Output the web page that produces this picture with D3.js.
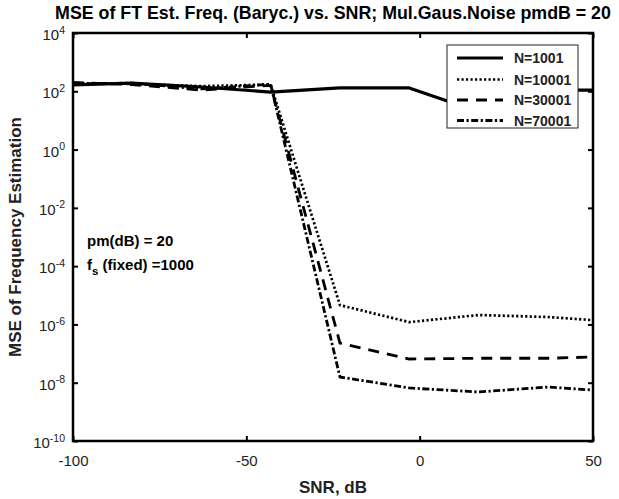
<!DOCTYPE html>
<html><head><meta charset="utf-8">
<script src="https://cdn.jsdelivr.net/npm/d3@7"></script>
<style>body{margin:0;background:#fff}svg{display:block}text{font-family:"Liberation Sans",Arial,sans-serif}</style>
</head><body><svg id="c" width="619" height="499"></svg>
<script>
const snr = [-100, -83, -63, -43, -23, -3, 17, 37, 50];
const n1001  = [164, 190, 140, 94, 130, 130, 20, 110, 110];
const n10001 = [190, 180, 150, 170, 4.6e-6, 1.2e-6, 2.1e-6, 1.8e-6, 1.4e-6];
const n30001 = [200, 170, 110, 160, 2.3e-7, 6.5e-8, 6.9e-8, 6.9e-8, 7.6e-8];
const n70001 = [180, 190, 120, 175, 1.57e-8, 6.6e-9, 4.8e-9, 7.1e-9, 5.6e-9];
const seriesNames = ["N=1001", "N=10001", "N=30001", "N=70001"];
const xTicks = [-100, -50, 0, 50];
const yTickExps = [-10, -8, -6, -4, -2, 0, 2, 4];
const title = "MSE of FT Est. Freq. (Baryc.) vs. SNR; Mul.Gaus.Noise pmdB = 20";
const xLabel = "SNR, dB";
const yLabel = "MSE of Frequency Estimation";

const L = 73, R = 593, T = 33, B = 441;
const svg = d3.select("#c");
const x = d3.scaleLinear().domain([-100, 50]).range([L, R]);
const y = d3.scaleLog().domain([1e-10, 1e4]).range([B, T]);

svg.append("clipPath").attr("id", "clip").append("rect")
  .attr("x", L).attr("y", T).attr("width", R - L).attr("height", B - T);

const styles = [
  {dash: null, w: 3.2},
  {dash: "2.2,2.3", w: 2.7},
  {dash: "11,8", w: 2.8},
  {dash: "7,2.5,2.2,2.5", w: 2.8}
];
const all = [n1001, n10001, n30001, n70001];
const line = d3.line().x((d, i) => x(snr[i])).y(d => y(d));
const g = svg.append("g").attr("clip-path", "url(#clip)");
all.forEach((s, k) => {
  g.append("path").datum(s).attr("d", line).attr("fill", "none")
    .attr("stroke", "#000").attr("stroke-width", styles[k].w)
    .attr("stroke-dasharray", styles[k].dash).attr("stroke-linejoin", "round");
});

// axes
const tl = 5;
const ax = svg.append("g");
ax.append("g").attr("transform", `translate(0,${B})`)
  .call(d3.axisBottom(x).tickValues(xTicks).tickSizeInner(-tl).tickSizeOuter(0).tickPadding(14)
    .tickFormat(d => String(d)))
  .call(a => { a.select(".domain").remove(); a.selectAll("line").attr("stroke-width", 2);
    a.selectAll("text").attr("font-size", 15).attr("fill", "#222"); });
ax.append("g").attr("transform", `translate(0,${T})`)
  .call(d3.axisTop(x).tickValues(xTicks).tickSizeInner(-tl).tickSizeOuter(0).tickFormat(""))
  .call(a => { a.select(".domain").remove(); a.selectAll("line").attr("stroke-width", 2); });
const yTicks = yTickExps.map(e => Math.pow(10, e));
ax.append("g").attr("transform", `translate(${L},0)`)
  .call(d3.axisLeft(y).tickValues(yTicks).tickSizeInner(-tl).tickSizeOuter(0).tickFormat(""))
  .call(a => { a.select(".domain").remove(); a.selectAll("line").attr("stroke-width", 2); });
ax.append("g").attr("transform", `translate(${R},0)`)
  .call(d3.axisRight(y).tickValues(yTicks).tickSizeInner(-tl).tickSizeOuter(0).tickFormat(""))
  .call(a => { a.select(".domain").remove(); a.selectAll("line").attr("stroke-width", 2); });
// y tick labels with superscript
yTickExps.forEach(e => {
  const t = svg.append("text").attr("x", L - 8).attr("y", y(Math.pow(10, e)) + 7)
    .attr("text-anchor", "end").attr("font-size", 15).attr("fill", "#222");
  t.append("tspan").text("10");
  t.append("tspan").attr("font-size", 10.5).attr("dy", -6.5).text(String(e));
});
// border
svg.append("rect").attr("x", L).attr("y", T).attr("width", R - L).attr("height", B - T)
  .attr("fill", "none").attr("stroke", "#000").attr("stroke-width", 2.5);

// title and labels
svg.append("text").attr("x", (L + R) / 2).attr("y", 19).attr("text-anchor", "middle")
  .attr("font-size", 17.8).attr("font-weight", "bold").text(title);
svg.append("text").attr("x", (L + R) / 2).attr("y", 493).attr("text-anchor", "middle")
  .attr("font-size", 17).attr("font-weight", "bold").attr("fill", "#222").text(xLabel);
svg.append("text").attr("transform", `translate(21,${(T + B) / 2}) rotate(-90)`)
  .attr("text-anchor", "middle").attr("font-size", 17).attr("font-weight", "bold").attr("fill", "#222").text(yLabel);

// annotations
svg.append("text").attr("x", 87).attr("y", 246).attr("font-size", 15).attr("font-weight", "bold").text("pm(dB) = 20");
const fs = svg.append("text").attr("x", 87).attr("y", 270).attr("font-size", 15).attr("font-weight", "bold");
fs.append("tspan").text("f");
fs.append("tspan").attr("font-size", 11.5).attr("dy", 5).text("s");
fs.append("tspan").attr("dy", -5).text(" (fixed) =1000");

// legend
const lx = 447, ly = 45, lw = 131, lh = 83;
svg.append("rect").attr("x", lx).attr("y", ly).attr("width", lw).attr("height", lh)
  .attr("fill", "#fff").attr("stroke", "#222").attr("stroke-width", 1);
const rows = [58, 79.5, 100, 120.5];
seriesNames.forEach((n, k) => {
  svg.append("line").attr("x1", 457).attr("x2", 503).attr("y1", rows[k]).attr("y2", rows[k])
    .attr("stroke", "#000").attr("stroke-width", styles[k].w).attr("stroke-dasharray", styles[k].dash);
  svg.append("text").attr("x", 514).attr("y", rows[k] + 5).attr("font-size", 14)
    .attr("font-weight", "bold").attr("fill", "#222").text(n);
});
</script></body></html>
